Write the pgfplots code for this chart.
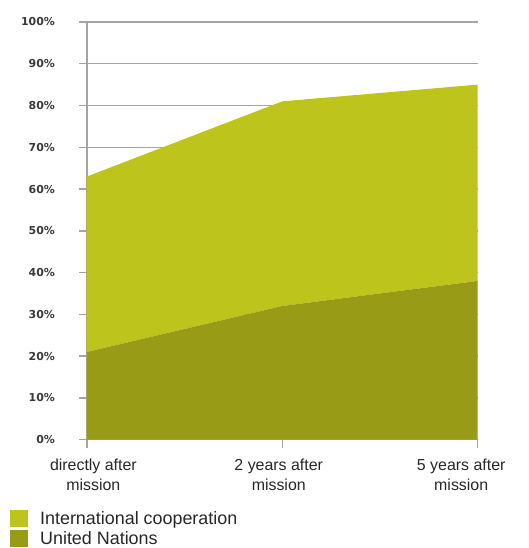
\documentclass[border=0pt]{standalone}
\usepackage{pgfplots}
\pgfplotsset{compat=1.18}
\usepackage{fontspec}
\setmainfont{Liberation Sans}
\newfontfamily\tickfont{DejaVu Sans}
\definecolor{intl}{HTML}{BDC41B}
\definecolor{un}{HTML}{989B16}
\definecolor{gridc}{HTML}{A4A4A4}
\begin{document}
\begin{tikzpicture}
\begin{axis}[
    name=ax,
    scale only axis,
    width=391bp, height=418bp,
    xmin=0, xmax=2,
    ymin=0, ymax=100,
    stack plots=y,
    xtick={0,1,2},
    xticklabels={},
    extra x ticks={0.033,0.982,1.916},
    extra x tick labels={directly after\\mission, 2 years after\\mission, 5 years after\\mission},
    extra x tick style={
        major tick length=0pt,
        xticklabel style={align=center, font=\fontsize{16}{19.5}\selectfont, text=black!85, yshift=-16bp},
    },
    ytick={0,10,...,100},
    yticklabel={\pgfmathprintnumber{\tick}\%},
    yticklabel style={font=\tickfont\bfseries\fontsize{11}{13}\selectfont, text=black!78, xshift=-20.5bp},
    /pgf/number format/assume math mode=true,
    ymajorgrids=true,
    grid style={gridc, line width=1.5bp},
    axis x line*=bottom,
    axis y line*=left,
    axis line style={gridc, line width=1.5bp, -},
    tick style={gridc, line width=1.5bp},
    tick align=outside,
    major tick length=8bp,
    legend cell align=left,
    reverse legend,
    legend style={at={(-0.197,-0.167)}, anchor=north west, draw=none, fill=none,
        font=\fontsize{18}{20}\selectfont, text=black!85, row sep=1.5bp, column sep=10bp,
        inner sep=0pt},
    legend image code/.code={\fill[#1] (0bp,-8.5bp) rectangle (18bp,8.5bp);},
]
\addplot[fill=un, draw=none] coordinates {(0,21) (1,32) (2,38)} \closedcycle;
\addlegendentry{United Nations}
\addplot[fill=intl, draw=none] coordinates {(0,42) (1,49) (2,47)} \closedcycle;
\addlegendentry{International cooperation}
\end{axis}
\path ([shift={(-87bp,-108bp)}]ax.south west) rectangle ++(529bp,548bp);
\end{tikzpicture}
\end{document}
